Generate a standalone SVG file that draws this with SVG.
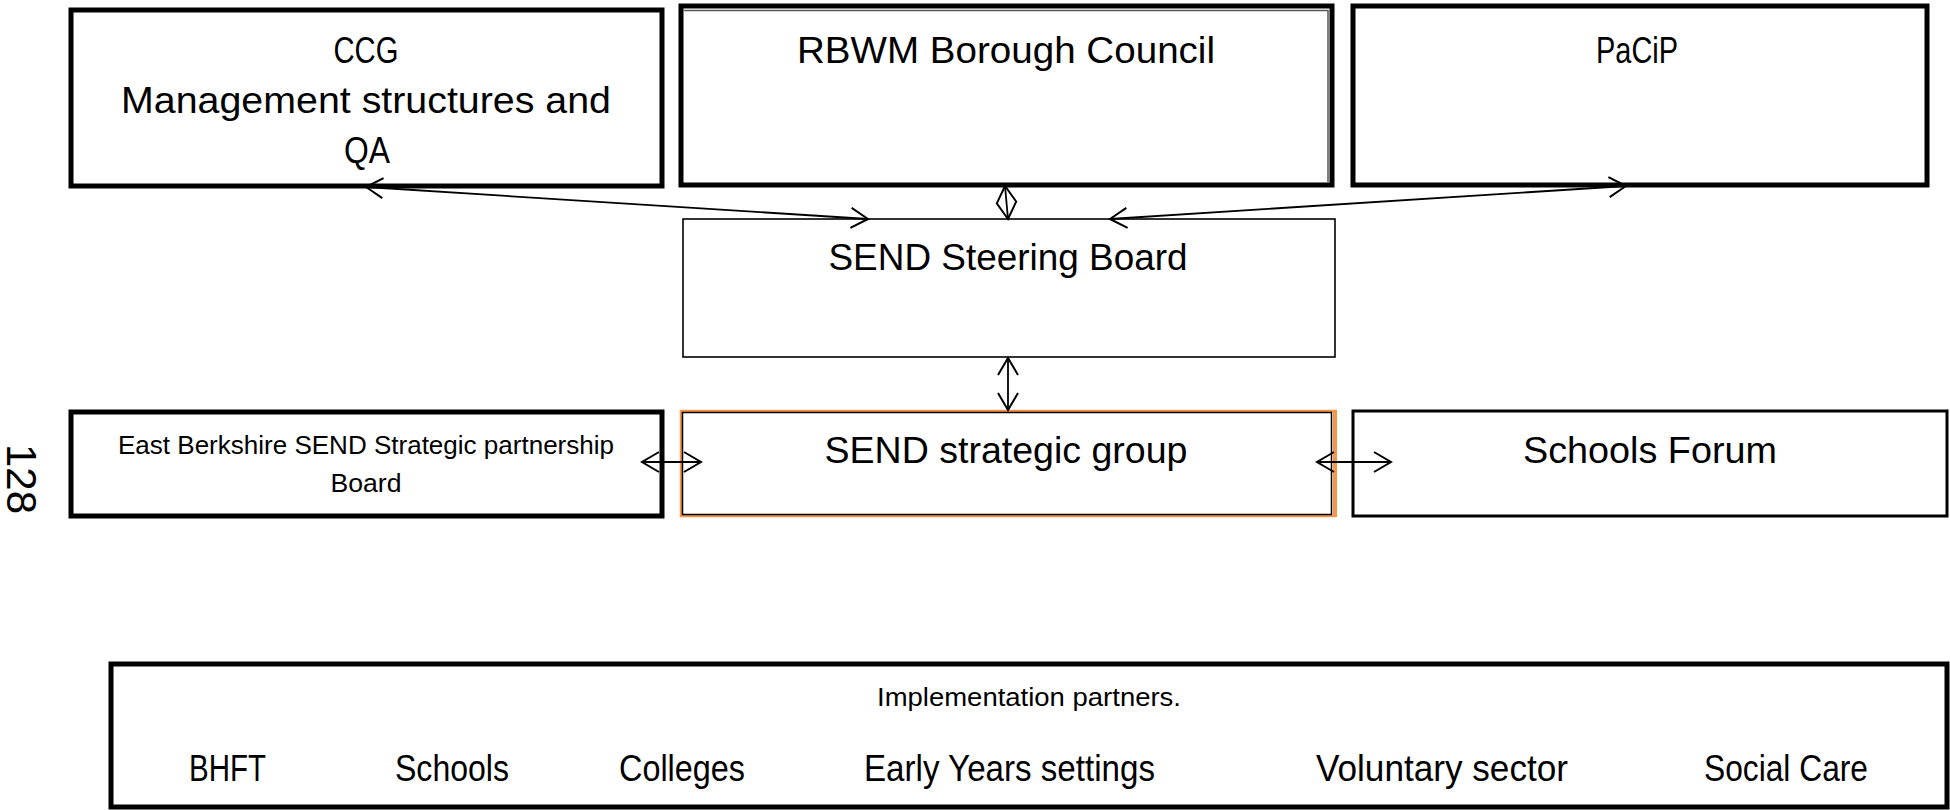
<svg xmlns="http://www.w3.org/2000/svg" width="1950" height="810" viewBox="0 0 1950 810">
<style>
text{font-family:"Liberation Sans",Arial,sans-serif;fill:#000;text-anchor:middle}
.big{font-size:37px}
.small{font-size:26px}
.thick{fill:#fff;stroke:#000;stroke-width:5}
.med{fill:#fff;stroke:#000;stroke-width:3}
.thin{fill:#fff;stroke:#000;stroke-width:1.6}
.conn{fill:none;stroke:#000;stroke-width:1.8;marker-start:url(#ah);marker-end:url(#ah)}
</style>
<defs>
<marker id="ah" markerUnits="userSpaceOnUse" markerWidth="24" markerHeight="24" refX="0" refY="0" orient="auto-start-reverse" overflow="visible">
<path d="M-17,-10 L0,0 L-17,10" fill="none" stroke="#000" stroke-width="2"/>
</marker>
</defs>
<rect width="1950" height="810" fill="#fff"/>
<text transform="translate(7,479) rotate(90)" style="font-size:42px">128</text>
<g id="ccg">
<rect class="thick" x="71" y="10" width="591" height="176"/>
<text class="big" x="366" y="63" textLength="65" lengthAdjust="spacingAndGlyphs">CCG</text>
<text class="big" x="366" y="113" textLength="490" lengthAdjust="spacingAndGlyphs">Management structures and</text>
<text class="big" x="367" y="163" textLength="46" lengthAdjust="spacingAndGlyphs">QA</text>
</g>
<g id="rbwm">
<rect class="thick" x="681" y="6" width="651" height="179"/>
<polyline points="684,10.5 1328,10.5 1328,182" fill="none" stroke="#555" stroke-width="1.5"/>
<text class="big" x="1006" y="63" textLength="418" lengthAdjust="spacingAndGlyphs">RBWM Borough Council</text>
</g>
<g id="pacip">
<rect class="thick" x="1353" y="6" width="574" height="179"/>
<text class="big" x="1637" y="63" textLength="82" lengthAdjust="spacingAndGlyphs">PaCiP</text>
</g>
<g id="steering">
<rect class="thin" x="683" y="219" width="652" height="138"/>
<text class="big" x="1008" y="270" textLength="359" lengthAdjust="spacingAndGlyphs">SEND Steering Board</text>
</g>
<g id="eastberks">
<rect class="thick" x="71" y="412" width="591" height="104"/>
<text class="small" x="366" y="454" textLength="496" lengthAdjust="spacingAndGlyphs">East Berkshire SEND Strategic partnership</text>
<text class="small" x="366" y="492" textLength="71" lengthAdjust="spacingAndGlyphs">Board</text>
</g>
<g id="strategic">
<rect x="681" y="411" width="654" height="105" fill="#fff" stroke="#F79646" stroke-width="2.5"/>
<line x1="1335" y1="410" x2="1335" y2="517" stroke="#F79646" stroke-width="4"/>
<rect x="682.5" y="412.5" width="649" height="102" fill="none" stroke="#000" stroke-width="1.5"/>
<text class="big" x="1006" y="463" textLength="363" lengthAdjust="spacingAndGlyphs">SEND strategic group</text>
</g>
<g id="schoolsforum">
<rect class="med" x="1353" y="411" width="594" height="105"/>
<text class="big" x="1650" y="463" textLength="254" lengthAdjust="spacingAndGlyphs">Schools Forum</text>
</g>
<g id="implementation">
<rect class="thick" x="111" y="664" width="1836" height="143"/>
<text class="small" x="1029" y="706" textLength="304" lengthAdjust="spacingAndGlyphs">Implementation partners.</text>
<text class="big" x="227.5" y="781" textLength="77" lengthAdjust="spacingAndGlyphs">BHFT</text>
<text class="big" x="452" y="781" textLength="114" lengthAdjust="spacingAndGlyphs">Schools</text>
<text class="big" x="682" y="781" textLength="126" lengthAdjust="spacingAndGlyphs">Colleges</text>
<text class="big" x="1009.5" y="781" textLength="291" lengthAdjust="spacingAndGlyphs">Early Years settings</text>
<text class="big" x="1442" y="781" textLength="252" lengthAdjust="spacingAndGlyphs">Voluntary sector</text>
<text class="big" x="1786" y="781" textLength="164" lengthAdjust="spacingAndGlyphs">Social Care</text>
</g>
<g id="connectors">
<line class="conn" x1="366" y1="187" x2="868" y2="219"/>
<line class="conn" x1="1005" y1="186" x2="1008" y2="219"/>
<line class="conn" x1="1626" y1="186" x2="1110" y2="219"/>
<line class="conn" x1="1008" y1="358" x2="1008" y2="410"/>
<line class="conn" x1="642" y1="462" x2="701" y2="462"/>
<line class="conn" x1="1317" y1="462" x2="1391" y2="462"/>
</g>
</svg>
